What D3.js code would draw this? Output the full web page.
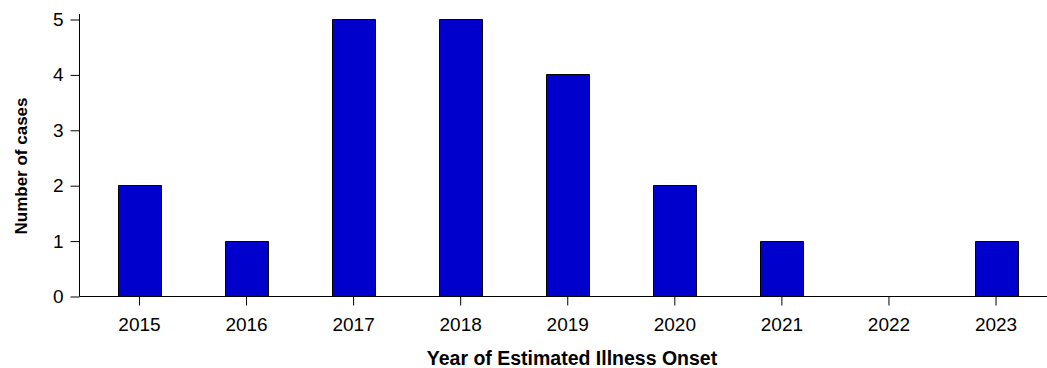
<!DOCTYPE html>
<html>
<head>
<meta charset="utf-8">
<script src="https://cdn.jsdelivr.net/npm/d3@7"></script>
<style>
  html, body { margin: 0; padding: 0; background: #fff; }
  svg { display: block; }
  text { font-family: "Liberation Sans", Arial, sans-serif; fill: #000; }
</style>
</head>
<body>
<svg id="chart" width="1047" height="368"></svg>
<script>
const years = ["2015", "2016", "2017", "2018", "2019", "2020", "2021", "2022", "2023"];
const cases = [2, 1, 5, 5, 4, 2, 1, 0, 1];
const yTicks = [0, 1, 2, 3, 4, 5];
const xTitle = "Year of Estimated Illness Onset";
const yTitle = "Number of cases";

const svg = d3.select("#chart");
const axisX0 = 79.5, axisY0 = 296.5;

const x = d3.scaleBand().domain(years).range([axisX0, 1056]).paddingInner(0.6).paddingOuter(0.36);
const y = d3.scaleLinear().domain([0, 5]).range([axisY0, 19.5]);

// bars (paths so that a zero-height bar still shows its outline)
svg.append("g").selectAll("path").data(years).join("path")
  .attr("d", (d, i) => {
    const x0 = Math.round(x(d)) + 0.5;
    const x1 = x0 + Math.round(x.bandwidth());
    const y0 = Math.floor(y(0)) + 0.5;
    const y1 = Math.floor(y(cases[i])) + 0.5;
    return `M${x0},${y0}V${y1}H${x1}V${y0}Z`;
  })
  .attr("fill", "#0000CC")
  .attr("stroke", "#000")
  .attr("stroke-width", 1);

// y axis
const yAxis = svg.append("g").attr("transform", `translate(${axisX0},0)`)
  .call(d3.axisLeft(y).tickValues(yTicks).tickFormat(d3.format("d")).tickSizeInner(9).tickSizeOuter(0).tickPadding(7));
yAxis.select(".domain").remove();
yAxis.append("line").attr("x1", 0).attr("x2", 0).attr("y1", 14).attr("y2", axisY0).attr("stroke", "#000");
yAxis.selectAll("text").style("font-size", "19px").attr("fill", "#000").attr("font-family", "Liberation Sans, Arial, sans-serif");
yAxis.selectAll(".tick line").attr("stroke", "#000");

// x axis
const xAxis = svg.append("g").attr("transform", `translate(0,${axisY0})`)
  .call(d3.axisBottom(x).tickSizeInner(9).tickSizeOuter(0).tickPadding(12));
xAxis.select(".domain").remove();
xAxis.append("line").attr("x1", axisX0).attr("x2", 1047).attr("y1", 0).attr("y2", 0).attr("stroke", "#000");
xAxis.selectAll("text").style("font-size", "19px").attr("fill", "#000").attr("font-family", "Liberation Sans, Arial, sans-serif");
xAxis.selectAll(".tick line").attr("stroke", "#000");

// titles
svg.append("text").attr("x", 572).attr("y", 365)
  .attr("text-anchor", "middle").style("font-size", "19.5px").style("font-weight", "bold")
  .text(xTitle);
svg.append("text").attr("transform", "translate(27,166) rotate(-90)")
  .attr("text-anchor", "middle").style("font-size", "17px").style("font-weight", "bold")
  .text(yTitle);
</script>
</body>
</html>
